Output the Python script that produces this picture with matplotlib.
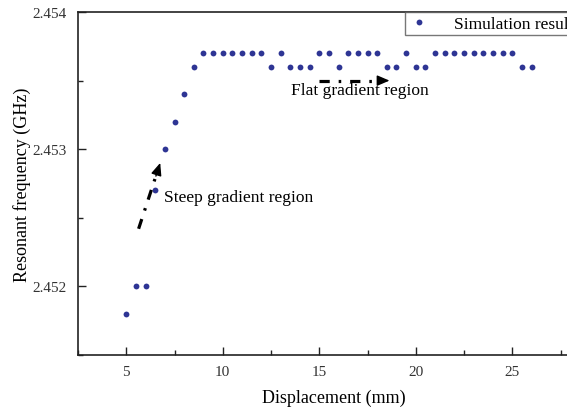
import matplotlib
matplotlib.use("Agg")
import matplotlib.pyplot as plt
from matplotlib.ticker import MultipleLocator, FormatStrFormatter

# Displacement (mm) and simulated resonant frequency (GHz)
displacement = [5.0, 5.5, 6.0, 6.5, 7.0, 7.5, 8.0, 8.5,
                9.0, 9.5, 10.0, 10.5, 11.0, 11.5, 12.0, 12.5,
                13.0, 13.5, 14.0, 14.5, 15.0, 15.5, 16.0, 16.5,
                17.0, 17.5, 18.0, 18.5, 19.0, 19.5, 20.0, 20.5,
                21.0, 21.5, 22.0, 22.5, 23.0, 23.5, 24.0, 24.5,
                25.0, 25.5, 26.0]
frequency = [2.4518, 2.4520, 2.4520, 2.4527, 2.4530, 2.4532, 2.4534, 2.4536,
             2.4537, 2.4537, 2.4537, 2.4537, 2.4537, 2.4537, 2.4537, 2.4536,
             2.4537, 2.4536, 2.4536, 2.4536, 2.4537, 2.4537, 2.4536, 2.4537,
             2.4537, 2.4537, 2.4537, 2.4536, 2.4536, 2.4537, 2.4536, 2.4536,
             2.4537, 2.4537, 2.4537, 2.4537, 2.4537, 2.4537, 2.4537, 2.4537,
             2.4537, 2.4536, 2.4536]

series_label = "Simulation result"
x_label = "Displacement (mm)"
y_label = "Resonant frequency (GHz)"
x_ticks = [5, 10, 15, 20, 25]
y_ticks = [2.452, 2.453, 2.454]

plt.rcParams["font.family"] = ["Liberation Serif", "DejaVu Serif"]

W, H = 567, 410
fig = plt.figure(figsize=(W / 100, H / 100), dpi=100)

xmin, xmax = 2.5, 29.0
ymin, ymax = 2.4515, 2.454
px_per_mm = 19.3
left_px, top_px, bottom_px = 78, 13, 356
ax = fig.add_axes([left_px / W, 1 - bottom_px / H,
                   (xmax - xmin) * px_per_mm / W, (bottom_px - top_px) / H])

ax.plot(displacement, frequency, linestyle="none", marker="o",
        markersize=4.2, color="#2e3594", markeredgewidth=0,
        label=series_label)

ax.set_xlim(xmin, xmax)
ax.set_ylim(ymin, ymax)
ax.set_xticks(x_ticks)
ax.set_yticks(y_ticks)
ax.xaxis.set_minor_locator(MultipleLocator(2.5))
ax.yaxis.set_minor_locator(MultipleLocator(0.0005))
ax.yaxis.set_major_formatter(FormatStrFormatter("%.3f"))
ax.tick_params(which="both", direction="in", top=False, right=False,
               labelsize=11, labelcolor="#333333", width=1.0, color="#222222")
ax.tick_params(axis="y", which="major", pad=8)
ax.tick_params(axis="x", which="major", pad=7)
ax.tick_params(which="major", length=6)
ax.tick_params(which="minor", length=3.5)
for sp in ax.spines.values():
    sp.set_linewidth(1.2)
    sp.set_color("#222222")

ax.set_xlabel(x_label, fontsize=13, labelpad=8)
ax.set_ylabel(y_label, fontsize=13, labelpad=1)


def dashdot_arrow(x0, y0, x1, y1, frac=0.86):
    """Dash-dot shaft from (x0, y0) with a solid filled head at (x1, y1)."""
    xm = x0 + (x1 - x0) * frac
    ym = y0 + (y1 - y0) * frac
    ax.plot([x0, xm], [y0, ym], color="black", lw=2.3,
            linestyle=(0, (3.2, 2.8, 0.8, 2.8)), solid_capstyle="butt",
            dash_capstyle="butt")
    ax.annotate("", xy=(x1, y1), xytext=(xm, ym),
                arrowprops=dict(arrowstyle="-|>,head_length=0.75,head_width=0.32",
                                color="black", lw=1.0, shrinkA=0, shrinkB=0))


# Region annotations
dashdot_arrow(5.64, 2.45242, 6.76, 2.45290, frac=0.80)
ax.text(6.98, 2.45265, "Steep gradient region", fontsize=12.5,
        va="center", ha="left")
dashdot_arrow(14.98, 2.45350, 18.64, 2.45350, frac=0.90)
ax.text(13.55, 2.45343, "Flat gradient region", fontsize=12.5,
        va="center", ha="left")

leg = ax.legend(loc="upper left", bbox_to_anchor=(405 / W, 1 - top_px / H),
                bbox_transform=fig.transFigure, borderaxespad=0,
                fontsize=12.5, frameon=True, fancybox=False,
                handlelength=1.2, handletextpad=1.4, borderpad=0.2,
                markerscale=1.0)
leg.get_frame().set_edgecolor("#555555")
leg.get_frame().set_linewidth(1.0)

fig.savefig("out.png", dpi=100)
